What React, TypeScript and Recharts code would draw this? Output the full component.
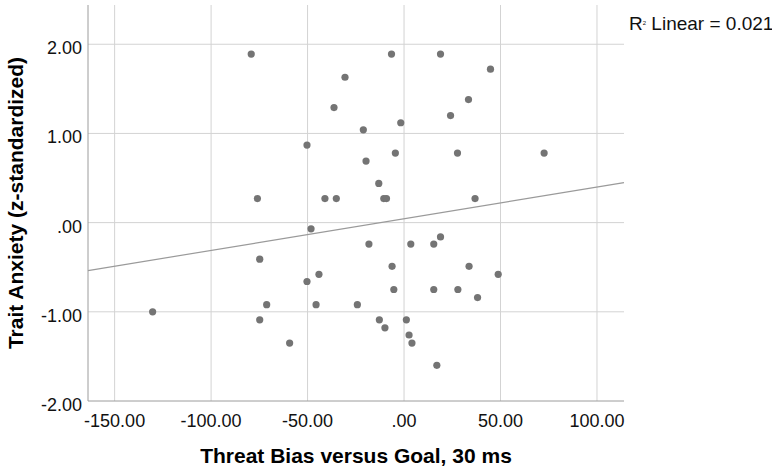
import React from "react";
import {
  ComposedChart,
  Scatter,
  XAxis,
  YAxis,
  ReferenceLine,
  Label,
  Customized,
} from "recharts";

// Threat bias (x) values
const threatBias: number[] = [
  -79.2, -6.5, 18.9, 44.8, -30.6, -36.3, 33.4, 24.1, -1.7, -21.1,
  -50.3, -4.5, 27.7, -19.7, -13.1, -76.0, -41.0, -35.1, -10.5, -9.1,
  36.8, -48.2, 18.9, 72.6, -74.8, -18.2, 3.5, 15.4, -6.2, 33.7,
  -44.1, 48.8, -50.3, -5.3, 15.4, 27.9, 38.1, -71.2, -45.6, -24.2,
  -74.8, -12.8, 1.2, -9.9, 2.6, 4.1, -59.3, 17.0, -130.3,
];

// Trait anxiety (y) values
const traitAnxiety: number[] = [
  1.89, 1.89, 1.89, 1.72, 1.63, 1.29, 1.38, 1.2, 1.12, 1.04,
  0.87, 0.78, 0.78, 0.69, 0.44, 0.27, 0.27, 0.27, 0.27, 0.27,
  0.27, -0.07, -0.16, 0.78, -0.41, -0.24, -0.24, -0.24, -0.49, -0.49,
  -0.58, -0.58, -0.66, -0.75, -0.75, -0.75, -0.84, -0.92, -0.92, -0.92,
  -1.09, -1.09, -1.09, -1.18, -1.26, -1.35, -1.35, -1.6, -1.0,
];

// Fit line end points (at the edges of the x range)
const fitX: number[] = [-163.8, 114];
const fitY: number[] = [-0.538, 0.448];

const xTicks: number[] = [-150, -100, -50, 0, 50, 100];
const yTicks: number[] = [-2, -1, 0, 1, 2];
const xDomain: number[] = [-163.8, 114];
const yDomain: number[] = [-2, 2.44];

const xLabel = "Threat Bias versus Goal, 30 ms";
const yLabel = "Trait Anxiety (z-standardized)";
const fitLabel = "Linear = 0.021";

const points = threatBias.map((x, i) => ({ x, y: traitAnxiety[i] }));
const fitSegment = fitX.map((x, i) => ({ x, y: fitY[i] }));

const FONT = '"Liberation Sans", Arial, sans-serif';
const GRID = "#d3d3d3";

const fmt = (v: number) => {
  let s = Math.abs(v).toFixed(2);
  if (s.startsWith("0.")) s = s.slice(1);
  return v < 0 ? "-" + s : s;
};

const XTick = (props: any) => {
  const { x, y, payload } = props;
  return (
    <text x={x} y={y + 26} textAnchor="middle" fontSize={18} fontFamily={FONT} fill="#111">
      {fmt(payload.value)}
    </text>
  );
};

const YTick = (props: any) => {
  const { x, y, payload } = props;
  return (
    <text x={x - 6} y={y + 10} textAnchor="end" fontSize={18} fontFamily={FONT} fill="#111">
      {fmt(payload.value)}
    </text>
  );
};

const Dot = (props: any) => {
  const { cx, cy } = props;
  return <circle cx={cx} cy={cy} r={3.6} fill="#747474" />;
};

export default function App() {
  return (
    <div style={{ position: "absolute", left: 0, top: 0, width: 772, height: 469, background: "#fff" }}>
      <ComposedChart
        width={772}
        height={469}
        margin={{ top: 5, right: 148, bottom: 0, left: 0 }}
      >
        {xTicks.map((t) => (
          <ReferenceLine key={"gx" + t} x={t} stroke={GRID} strokeWidth={1} />
        ))}
        {yTicks
          .filter((t) => t !== yDomain[0])
          .map((t) => (
            <ReferenceLine key={"gy" + t} y={t} stroke={GRID} strokeWidth={1} />
          ))}
        <XAxis
          type="number"
          dataKey="x"
          domain={xDomain}
          ticks={xTicks}
          allowDataOverflow
          height={68}
          tickLine={false}
          tickSize={0}
          tickMargin={0}
          axisLine={{ stroke: "#9c9c9c", strokeWidth: 1 }}
          tick={<XTick />}
          interval={0}
        >
          <Label
            content={() => (
              <text x={356} y={463} textAnchor="middle" fontSize={21} fontWeight="bold" fontFamily={FONT} fill="#000">
                {xLabel}
              </text>
            )}
          />
        </XAxis>
        <YAxis
          type="number"
          dataKey="y"
          domain={yDomain}
          ticks={yTicks}
          allowDataOverflow
          width={88}
          tickLine={false}
          tickSize={0}
          tickMargin={0}
          axisLine={{ stroke: "#9c9c9c", strokeWidth: 1 }}
          tick={<YTick />}
          interval={0}
        >
          <Label
            content={() => (
              <text
                x={0}
                y={0}
                transform="translate(23 203) rotate(-90)"
                textAnchor="middle"
                fontSize={21}
                fontWeight="bold"
                fontFamily={FONT}
                fill="#000"
              >
                {yLabel}
              </text>
            )}
          />
        </YAxis>
        <ReferenceLine
          segment={fitSegment}
          stroke="#9a9a9a"
          strokeWidth={1.2}
          ifOverflow="visible"
        />
        <Scatter data={points} shape={<Dot />} isAnimationActive={false} />
        <Customized
          component={() => (
            <text x={629} y={30} fontSize={19} fontFamily={FONT} fill="#111">
              R
              <tspan fontSize={6} dy={-5}>2</tspan>
              <tspan dy={5}> {fitLabel}</tspan>
            </text>
          )}
        />
      </ComposedChart>
    </div>
  );
}
